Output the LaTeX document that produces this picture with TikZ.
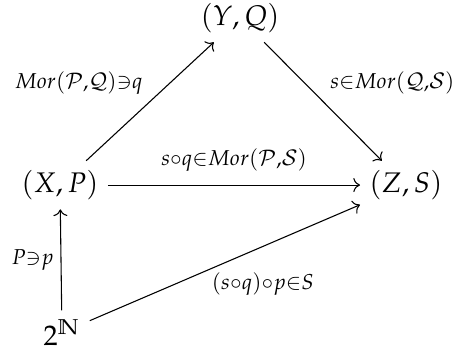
\documentclass[tikz,border=0pt]{standalone}
\usepackage{mathpazo}
\usetikzlibrary{arrows.meta}

\begin{document}
\begin{tikzpicture}[x=1cm,y=1cm,>={Computer Modern Rightarrow},
  font=\fontsize{10.5}{13}\selectfont,
  map/.style={->},
  lbl/.style={auto,inner sep=2.5pt}]
  \useasboundingbox (0,0) rectangle (5.924,-4.635);
  % objects
  \node (yq) at (3.125,-0.234) {$(Y,Q)$};
  \node (xp) at (0.781,-2.409) {$(X,P)$};
  \node (zs) at (5.286,-2.409) {$(Z,S)$};
  \node (cantor) at (0.807,-4.33) {$2^{\mathbb{N}}$};
  % morphisms
  \draw[map] (xp) -- node[lbl] {$\scriptstyle Mor(\mathcal{P},\mathcal{Q})\ni q$} (yq);
  \draw[map] (yq) -- node[lbl] {$\scriptstyle s\in Mor(\mathcal{Q},\mathcal{S})$} (zs);
  \draw[map] (xp) -- node[lbl,inner sep=5pt] {$\scriptstyle s\circ q\in Mor(\mathcal{P},\mathcal{S})$} (zs);
  \draw[map] (cantor) -- node[lbl] {$\scriptstyle P\ni p$} (xp);
  \draw[map] (cantor) -- node[lbl,swap,pos=0.44,inner sep=1pt] {$\scriptstyle (s\circ q)\circ p\in S$} (zs);
\end{tikzpicture}
\end{document}
